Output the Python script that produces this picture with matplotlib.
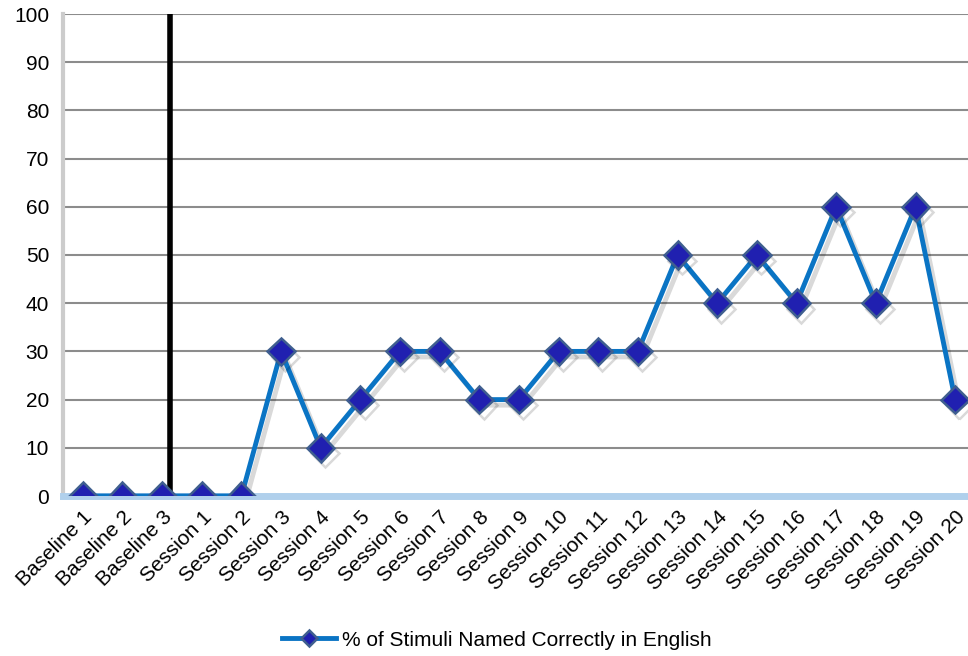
import matplotlib.pyplot as plt
import matplotlib.patheffects as pe

labels = ['Baseline 1', 'Baseline 2', 'Baseline 3'] + ['Session ' + str(i) for i in range(1, 21)]
values = [0, 0, 0, 0, 0, 30, 10, 20, 30, 30, 20, 20, 30, 30, 30, 50, 40, 50, 40, 60, 40, 60, 20]
phase_line = 2.2  # between baseline and treatment

plt.rcParams['font.family'] = ['Liberation Sans', 'DejaVu Sans']

fig = plt.figure(figsize=(9.68, 6.56), dpi=100)
ax = fig.add_axes([63 / 968, 1 - 496 / 656, (975 - 63) / 968, (496 - 14) / 656])

x = list(range(len(values)))
ax.plot(x, values, color='#0A74C4', lw=3.5, marker='D', ms=14,
        markerfacecolor='#2020B0', markeredgecolor='#3F5F8F', markeredgewidth=1.8,
        label='% of Stimuli Named Correctly in English', zorder=5,
        path_effects=[pe.SimpleLineShadow(offset=(3, -4), alpha=0.15), pe.Normal()])

ax.axvline(phase_line, color='black', lw=4, zorder=4)

ax.set_xlim(-0.5, len(values) - 0.5)
ax.set_ylim(0, 100)
ax.set_yticks(range(0, 101, 10))
ax.set_xticks(x)
ax.set_xticklabels(labels, rotation=45, ha='right', rotation_mode='anchor', fontsize=15)
ax.tick_params(axis='y', labelsize=15, length=0, pad=10)
ax.tick_params(axis='x', length=0, pad=8)
ax.grid(axis='y', color='#8c8c8c', lw=1.5)
ax.set_axisbelow(True)
for s in ['top', 'right']:
    ax.spines[s].set_visible(False)
ax.spines['left'].set_color('#cccccc')
ax.spines['left'].set_linewidth(3)
ax.spines['bottom'].set_color('#b0d0ec')
ax.spines['bottom'].set_linewidth(5)

leg = ax.legend(loc='center', bbox_to_anchor=((497 - 63) / 912, (656 - 640 - 160) / 482), frameon=False,
                fontsize=15, handlelength=2.6, handletextpad=0.3, markerscale=0.6)
for h in leg.get_lines():
    h.set_path_effects([])

plt.savefig('out.png', dpi=100)
